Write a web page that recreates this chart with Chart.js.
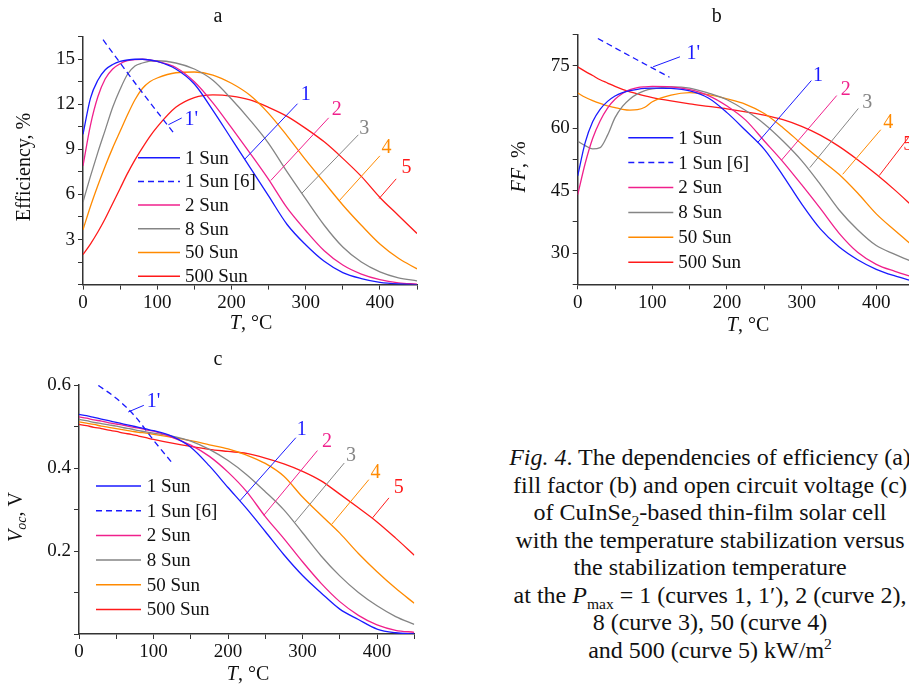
<!DOCTYPE html>
<html>
<head>
<meta charset="utf-8">
<script src="https://cdn.jsdelivr.net/npm/chart.js@4.4.1/dist/chart.umd.min.js"></script>
<style>
  html, body { margin: 0; padding: 0; background: #fff; overflow: hidden; width: 909px; height: 691px; }
  canvas { position: absolute; }
  #cap {
    position: absolute; left: 480px; top: 444px; width: 460px;
    font-family: "Liberation Serif", "Times New Roman", serif; font-size: 24px;
    line-height: 27.5px; text-align: center; color: #111; white-space: nowrap;
  }
  #cap sub, #cap sup { font-size: 0.65em; line-height: 0; }
</style>
</head>
<body>
<canvas id="chartA" width="430" height="340" style="left:0;top:0"></canvas>
<canvas id="chartB" width="470" height="340" style="left:460px;top:0"></canvas>
<canvas id="chartC" width="430" height="351" style="left:0;top:340px"></canvas>
<div id="cap"><i>Fig. 4</i>. The dependencies of efficiency (a)<br>fill factor (b) and open circuit voltage (c)<br>of CuInSe<sub>2</sub>-based thin-film solar cell<br>with the temperature stabilization versus<br>the stabilization temperature<br>at the <i>P</i><sub>max</sub> = 1 (curves 1, 1′), 2 (curve 2),<br>8 (curve 3), 50 (curve 4)<br>and 500 (curve 5) kW/m<sup>2</sup></div>
<script>
// temperature grid, °C
const temps = [0, 10, 20, 30, 40, 50, 60, 70, 80, 90, 100, 125, 150, 175, 200, 225, 250, 275, 300, 325, 350, 375, 400, 425, 450];
const seriesLabels = ["1 Sun", "1 Sun [6]", "2 Sun", "8 Sun", "50 Sun", "500 Sun"];

// (a) efficiency, %
const effSun1 = [10.0, 12.4, 13.6, 14.3, 14.65, 14.85, 14.95, 15.0, 15.0, 14.95, 14.85, 14.35, 13.35, 11.6, 9.7, 7.8, 5.9, 4.0, 2.65, 1.55, 0.8, 0.4, 0.15, 0.04, 0.0];
const effSun2 = [7.9, 10.6, 12.5, 13.7, 14.35, 14.7, 14.9, 14.98, 15.0, 14.95, 14.85, 14.45, 13.5, 12.1, 10.45, 8.75, 7.0, 5.1, 3.6, 2.25, 1.3, 0.7, 0.33, 0.12, 0.03];
const effSun8 = [5.5, 7.2, 8.8, 10.3, 11.8, 13.0, 14.0, 14.55, 14.75, 14.88, 14.9, 14.75, 14.35, 13.6, 12.35, 10.95, 9.4, 7.5, 5.7, 3.95, 2.5, 1.5, 0.85, 0.45, 0.25];
const effSun50 = [3.65, 5.2, 6.6, 7.9, 9.1, 10.2, 11.3, 12.3, 13.05, 13.5, 13.75, 14.1, 14.15, 13.95, 13.4, 12.6, 11.4, 9.9, 8.3, 6.8, 5.3, 3.95, 2.7, 1.75, 1.05];
const effSun500 = [2.0, 2.7, 3.5, 4.4, 5.4, 6.4, 7.4, 8.3, 9.1, 9.85, 10.5, 11.8, 12.45, 12.63, 12.55, 12.3, 11.8, 11.2, 10.4, 9.5, 8.4, 7.2, 5.8, 4.6, 3.4];
const effRefT = [27, 75, 122];
const effRef = [16.3, 13.1, 10.1];

// (b) fill factor, %
const ffSun1 = [48.5, 56.5, 61.5, 64.5, 66.4, 67.7, 68.5, 69.0, 69.3, 69.5, 69.6, 69.5, 68.9, 67.2, 63.7, 59.4, 54.9, 48.6, 41.8, 35.8, 31.5, 28.4, 26.1, 24.5, 23.2];
const ffSun2 = [44.0, 51.5, 57.5, 61.7, 64.8, 66.9, 68.3, 69.2, 69.7, 69.9, 70.0, 69.9, 69.2, 67.8, 65.3, 61.9, 56.9, 51.9, 46.4, 40.7, 34.8, 30.2, 27.3, 25.6, 24.2];
const ffSun8 = [56.8, 55.8, 55.0, 55.3, 58.3, 62.5, 65.2, 67.0, 68.2, 69.0, 69.4, 69.9, 69.6, 68.4, 66.8, 64.2, 61.0, 56.9, 52.2, 46.5, 40.4, 35.6, 31.8, 29.7, 27.8];
const ffSun50 = [68.4, 67.4, 66.6, 65.9, 65.3, 64.9, 64.5, 64.3, 64.4, 65.0, 66.3, 67.9, 68.5, 68.0, 67.0, 65.7, 63.5, 60.1, 56.2, 52.5, 48.9, 44.4, 39.4, 35.4, 31.6];
const ffSun500 = [74.7, 73.6, 72.6, 71.6, 70.8, 70.0, 69.3, 68.7, 68.2, 67.7, 67.3, 66.5, 65.8, 65.2, 64.6, 63.9, 63.1, 62.0, 60.4, 58.3, 55.6, 52.4, 48.9, 45.1, 41.0];
const ffRefT = [27, 75, 123];
const ffRef = [81.5, 76.8, 72.2];

// (c) open circuit voltage, V
const vocSun1 = [0.529, 0.526, 0.522, 0.518, 0.514, 0.510, 0.506, 0.502, 0.498, 0.494, 0.490, 0.476, 0.450, 0.405, 0.353, 0.302, 0.247, 0.191, 0.141, 0.099, 0.060, 0.035, 0.012, 0.003, 0.0];
const vocSun2 = [0.523, 0.520, 0.516, 0.513, 0.509, 0.506, 0.503, 0.499, 0.496, 0.492, 0.489, 0.474, 0.455, 0.428, 0.390, 0.343, 0.283, 0.230, 0.174, 0.122, 0.078, 0.045, 0.022, 0.009, 0.004];
const vocSun8 = [0.517, 0.514, 0.510, 0.507, 0.504, 0.501, 0.497, 0.494, 0.490, 0.487, 0.484, 0.477, 0.465, 0.445, 0.418, 0.384, 0.343, 0.299, 0.244, 0.188, 0.140, 0.100, 0.068, 0.042, 0.023];
const vocSun50 = [0.511, 0.508, 0.505, 0.501, 0.498, 0.495, 0.492, 0.489, 0.486, 0.484, 0.481, 0.474, 0.466, 0.456, 0.446, 0.431, 0.411, 0.380, 0.330, 0.286, 0.243, 0.194, 0.150, 0.110, 0.074];
const vocSun500 = [0.505, 0.502, 0.498, 0.495, 0.491, 0.488, 0.484, 0.481, 0.477, 0.473, 0.469, 0.460, 0.452, 0.445, 0.440, 0.435, 0.424, 0.410, 0.392, 0.369, 0.337, 0.304, 0.270, 0.231, 0.190];
const vocRefT = [26, 50, 75, 100, 127];
const vocRef = [0.599, 0.568, 0.525, 0.467, 0.408];

const lineColors = ["#1a1aff", "#1a1aff", "#f0208c", "#858585", "#ff8a00", "#ff1a1a"];
const SERIF = '"Liberation Serif", "Times New Roman", serif';

function pts(xs, ys) {
  return xs.map((x, i) => ({ x: x, y: ys[i] }));
}

function buildSets(main, refT, ref) {
  const all = [main[0], null, main[1], main[2], main[3], main[4]];
  return all.map((vals, i) => ({
    label: seriesLabels[i],
    data: i === 1 ? pts(refT, ref) : pts(temps, vals),
    borderColor: lineColors[i],
    borderWidth: 1.3,
    borderDash: i === 1 ? [6, 4] : [],
    pointRadius: 0,
    cubicInterpolationMode: "monotone",
    fill: false
  }));
}

// draw a title made of plain/italic/subscript pieces, centred on (x, y)
function richText(ctx, parts, x, y, angle) {
  const fontOf = p => (p.i ? "italic " : "") + (p.sub ? "14px " : "20px ") + SERIF;
  let w = 0;
  parts.forEach(p => { ctx.font = fontOf(p); w += ctx.measureText(p.t).width; });
  ctx.save();
  ctx.translate(x, y);
  ctx.rotate(angle);
  ctx.textBaseline = "middle";
  ctx.textAlign = "left";
  let cx = -w / 2;
  parts.forEach(p => {
    ctx.font = fontOf(p);
    ctx.fillText(p.t, cx, p.sub ? 5 : 0);
    cx += ctx.measureText(p.t).width;
  });
  ctx.restore();
}

const decor = {
  id: "decor",
  afterDraw(chart, args, o) {
    const ctx = chart.ctx, xs = chart.scales.x, ys = chart.scales.y, ca = chart.chartArea;
    ctx.save();
    ctx.fillStyle = "#111";
    ctx.font = "20px " + SERIF;
    ctx.textAlign = "center";
    ctx.textBaseline = "middle";
    ctx.fillText(o.letter, o.letterPos[0], o.letterPos[1]);
    richText(ctx, o.xTitle, o.xTitlePos[0], o.xTitlePos[1], 0);
    richText(ctx, o.yTitle, o.yTitlePos[0], o.yTitlePos[1], -Math.PI / 2);

    // legend inside the plot
    const lg = o.legend;
    chart.data.datasets.forEach((ds, i) => {
      const y = ca.top + lg.top + i * lg.step;
      ctx.strokeStyle = ds.borderColor;
      ctx.lineWidth = 1.5;
      ctx.setLineDash(ds.borderDash);
      ctx.beginPath();
      ctx.moveTo(ca.left + lg.x0, y);
      ctx.lineTo(ca.left + lg.x1, y);
      ctx.stroke();
      ctx.setLineDash([]);
      ctx.fillStyle = "#111";
      ctx.textAlign = "left";
      ctx.font = "19px " + SERIF;
      ctx.fillText(ds.label, ca.left + lg.tx, y + 1);
    });

    // curve numbers with leader lines
    o.marks.forEach(m => {
      ctx.strokeStyle = m.color;
      ctx.lineWidth = 1;
      ctx.beginPath();
      ctx.moveTo(xs.getPixelForValue(m.from[0]), ys.getPixelForValue(m.from[1]));
      ctx.lineTo(xs.getPixelForValue(m.to[0]), ys.getPixelForValue(m.to[1]));
      ctx.stroke();
      ctx.fillStyle = m.color;
      ctx.font = "20px " + SERIF;
      ctx.textAlign = "center";
      ctx.fillText(m.text, xs.getPixelForValue(m.at[0]), ys.getPixelForValue(m.at[1]));
    });
    ctx.restore();
  }
};

function makeChart(id, datasets, cfg) {
  const tickFont = { family: SERIF, size: 19 };
  return new Chart(document.getElementById(id), {
    type: "line",
    data: { datasets: datasets },
    options: {
      responsive: false,
      animation: false,
      layout: { padding: { top: cfg.padTop, right: cfg.padRight, left: 0, bottom: 0 } },
      plugins: { legend: { display: false }, tooltip: { enabled: false }, decor: cfg.decor },
      scales: {
        x: {
          type: "linear", min: 0, max: 450,
          afterFit: s => { s.height = cfg.xHeight; },
          ticks: {
            stepSize: 50, autoSkip: false, maxRotation: 0, padding: 2,
            color: "#111", font: tickFont,
            callback: v => (v % 100 === 0 && v <= 400 ? v : "")
          },
          grid: { drawOnChartArea: false, tickLength: 5, color: "#333" },
          border: { color: "#333", width: 1.5 }
        },
        y: {
          type: "linear", min: cfg.yMin, max: cfg.yMax,
          afterFit: s => { s.width = cfg.yWidth; },
          ticks: {
            stepSize: cfg.yStep, autoSkip: false, padding: 3,
            color: "#111", font: tickFont,
            callback: cfg.yLabel
          },
          grid: { drawOnChartArea: false, tickLength: 5, color: "#333" },
          border: { color: "#333", width: 1.5 }
        }
      }
    },
    plugins: [decor]
  });
}

const near = (v, step) => Math.abs(v / step - Math.round(v / step)) < 1e-6;
const xTitle = [{ t: "T", i: true }, { t: ", °C" }];

makeChart("chartA", buildSets([effSun1, effSun2, effSun8, effSun50, effSun500], effRefT, effRef), {
  padTop: 36.7, padRight: 13, xHeight: 55.4, yWidth: 83,
  yMin: 0, yMax: 16.5, yStep: 1.5,
  yLabel: v => (v > 0 && near(v, 3) ? String(Math.round(v)) : ""),
  decor: {
    letter: "a", letterPos: [218, 17],
    xTitle: xTitle, xTitlePos: [251, 324],
    yTitle: [{ t: "Efficiency, %" }], yTitlePos: [25, 167],
    legend: { x0: 55, x1: 97, tx: 102, top: 121, step: 23.7 },
    marks: [
      { text: "1'", color: lineColors[0], from: [115, 10.64], to: [133, 11.09], at: [146, 10.97] },
      { text: "1", color: lineColors[0], from: [218, 8.35], to: [289, 12.04], at: [300, 12.64] },
      { text: "2", color: lineColors[2], from: [253, 6.93], to: [331, 11.1], at: [342, 11.64] },
      { text: "3", color: lineColors[3], from: [295, 6.09], to: [371, 9.97], at: [379, 10.4] },
      { text: "4", color: lineColors[4], from: [345, 5.57], to: [400, 8.57], at: [409, 9.09] },
      { text: "5", color: lineColors[5], from: [399, 5.73], to: [422, 7.04], at: [436, 7.75] }
    ]
  }
});

makeChart("chartB", buildSets([ffSun1, ffSun2, ffSun8, ffSun50, ffSun500], ffRefT, ffRef), {
  padTop: 34.3, padRight: 16.4, xHeight: 55.7, yWidth: 117.7,
  yMin: 22.5, yMax: 82.5, yStep: 7.5,
  yLabel: v => (near(v, 15) ? String(Math.round(v)) : ""),
  decor: {
    letter: "b", letterPos: [256.7, 17],
    xTitle: xTitle, xTitlePos: [288, 326],
    yTitle: [{ t: "FF", i: true }, { t: ", %" }], yTitlePos: [60, 167],
    legend: { x0: 50.6, x1: 95.6, tx: 100.6, top: 103.4, step: 24.9 },
    marks: [
      { text: "1'", color: lineColors[0], from: [101, 74.7], to: [137, 77.1], at: [155, 77.9] },
      { text: "1", color: lineColors[0], from: [241, 56.5], to: [313, 71.4], at: [322, 72.6] },
      { text: "2", color: lineColors[2], from: [273, 52.3], to: [347, 67.8], at: [359, 69.3] },
      { text: "3", color: lineColors[3], from: [311, 50.5], to: [376, 64.7], at: [388, 66.0] },
      { text: "4", color: lineColors[4], from: [355, 48.9], to: [406, 59.6], at: [416, 61.2] },
      { text: "5", color: lineColors[5], from: [404, 48.6], to: [443, 57.7], at: [443, 56.0] }
    ]
  }
});

makeChart("chartC", buildSets([vocSun1, vocSun2, vocSun8, vocSun50, vocSun500], vocRefT, vocRef), {
  padTop: 45, padRight: 15.7, xHeight: 57, yWidth: 79,
  yMin: 0, yMax: 0.6, yStep: 0.1,
  yLabel: v => (v > 0.01 && near(v, 0.2) ? v.toFixed(1) : ""),
  decor: {
    letter: "c", letterPos: [218, 20],
    xTitle: xTitle, xTitlePos: [248, 335],
    yTitle: [{ t: "V", i: true }, { t: "oc", i: true, sub: true }, { t: ", V" }], yTitlePos: [17, 177],
    legend: { x0: 17, x1: 62, tx: 67.7, top: 101, step: 24.7 },
    marks: [
      { text: "1'", color: lineColors[0], from: [66, 0.535], to: [87, 0.551], at: [100, 0.559] },
      { text: "1", color: lineColors[0], from: [216, 0.321], to: [291, 0.473], at: [299, 0.492] },
      { text: "2", color: lineColors[2], from: [248, 0.286], to: [320, 0.442], at: [333, 0.463] },
      { text: "3", color: lineColors[3], from: [290, 0.27], to: [356, 0.412], at: [365, 0.43] },
      { text: "4", color: lineColors[4], from: [339, 0.264], to: [389, 0.372], at: [398, 0.388] },
      { text: "5", color: lineColors[5], from: [394, 0.28], to: [416, 0.328], at: [429, 0.352] }
    ]
  }
});
</script>
</body>
</html>
